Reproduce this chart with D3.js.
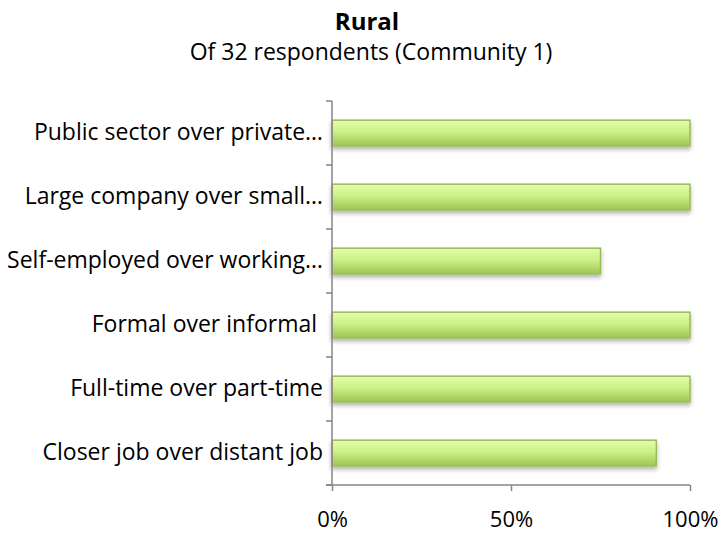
<!DOCTYPE html>
<html>
<head>
<meta charset="utf-8">
<script src="https://cdn.jsdelivr.net/npm/d3@7"></script>
<style>
  body { margin: 0; background: #fff; }
  svg { display: block; font-family: "Open Sans", Lato, sans-serif; }
</style>
</head>
<body>
<div id="chart"></div>
<script>
const categories = [
  "Public sector over private…",
  "Large company over small…",
  "Self-employed over working…",
  "Formal over informal ",
  "Full-time over part-time",
  "Closer job over distant job",
];
const values = [1.0, 1.0, 0.75, 1.0, 1.0, 0.906];
const ticks = [0, 0.5, 1];

const width = 721;
const height = 534;
const margin = { top: 101, right: 31, bottom: 49, left: 332 };
const fontSize = 23;

const svg = d3
  .select("#chart")
  .append("svg")
  .attr("width", width)
  .attr("height", height);

const defs = svg.append("defs");
const grad = defs
  .append("linearGradient")
  .attr("id", "barFill")
  .attr("x1", 0).attr("y1", 0)
  .attr("x2", 0).attr("y2", 1);
grad.append("stop").attr("offset", "0%").attr("stop-color", "#e0ffa6");
grad.append("stop").attr("offset", "45%").attr("stop-color", "#cdf08a");
grad.append("stop").attr("offset", "100%").attr("stop-color", "#9cc852");

const shadow = defs.append("filter").attr("id", "shadow")
  .attr("x", "-5%").attr("y", "-20%").attr("width", "110%").attr("height", "160%");
shadow.append("feDropShadow")
  .attr("dx", 0).attr("dy", 3).attr("stdDeviation", 2)
  .attr("flood-color", "#000").attr("flood-opacity", 0.3);

// scales
const xScale = d3.scaleLinear()
  .domain([0, 1])
  .range([margin.left, width - margin.right]);

const yScale = d3.scaleBand()
  .domain(categories)
  .range([margin.top, height - margin.bottom])
  .paddingInner(0.6)
  .paddingOuter(0.3);

// title
svg.append("text")
  .attr("x", 367).attr("y", 30)
  .attr("text-anchor", "middle")
  .attr("font-weight", "bold")
  .attr("font-size", 24)
  .attr("fill", "#000")
  .text("Rural");

svg.append("text")
  .attr("x", 371).attr("y", 60)
  .attr("text-anchor", "middle")
  .attr("font-size", fontSize)
  .attr("fill", "#000")
  .text("Of 32 respondents (Community 1)");

// bars
svg.append("g")
  .selectAll("rect")
  .data(values)
  .join("rect")
  .attr("x", xScale(0))
  .attr("y", (d, i) => yScale(categories[i]))
  .attr("width", (d) => xScale(d) - xScale(0))
  .attr("height", yScale.bandwidth())
  .attr("fill", "url(#barFill)")
  .attr("stroke", "#9bbb59")
  .attr("stroke-width", 1.5)
  .attr("filter", "url(#shadow)");

// x axis
const xAxis = d3.axisBottom(xScale)
  .tickValues(ticks)
  .tickFormat(d3.format(".0%"))
  .tickSize(6)
  .tickPadding(18);

const gx = svg.append("g")
  .attr("transform", `translate(0, ${height - margin.bottom})`)
  .call(xAxis);
gx.select(".domain").attr("stroke", "#868686").attr("stroke-width", 1.5)
  .attr("d", `M${xScale(0) - 6},0H${xScale(1)}`);
gx.selectAll(".tick line").attr("stroke", "#868686").attr("stroke-width", 1.5);
gx.selectAll(".tick text")
  .attr("font-size", 22).attr("fill", "#000")
  .attr("dy", null)
  .attr("y", 42)
  .attr("font-family", "'Open Sans', Lato, sans-serif");

// y axis line with tick marks between categories
const boundaries = d3.range(categories.length + 1).map((i) => margin.top + i * (height - margin.top - margin.bottom) / categories.length);
const gy = svg.append("g");
gy.append("line")
  .attr("x1", xScale(0)).attr("x2", xScale(0))
  .attr("y1", margin.top).attr("y2", height - margin.bottom)
  .attr("stroke", "#868686").attr("stroke-width", 1.5);
gy.selectAll("line.tk")
  .data(boundaries)
  .join("line")
  .attr("class", "tk")
  .attr("x1", xScale(0) - 6).attr("x2", xScale(0))
  .attr("y1", (d) => d).attr("y2", (d) => d)
  .attr("stroke", "#868686").attr("stroke-width", 1.5);

// category labels
gy.selectAll("text")
  .data(categories)
  .join("text")
  .attr("x", xScale(0) - 9)
  .attr("y", (d) => yScale(d) + yScale.bandwidth() / 2)
  .attr("dy", "0.3em")
  .attr("text-anchor", "end")
  .attr("font-size", fontSize)
  .attr("fill", "#000")
  .style("white-space", "pre")
  .text((d) => d);
</script>
</body>
</html>
